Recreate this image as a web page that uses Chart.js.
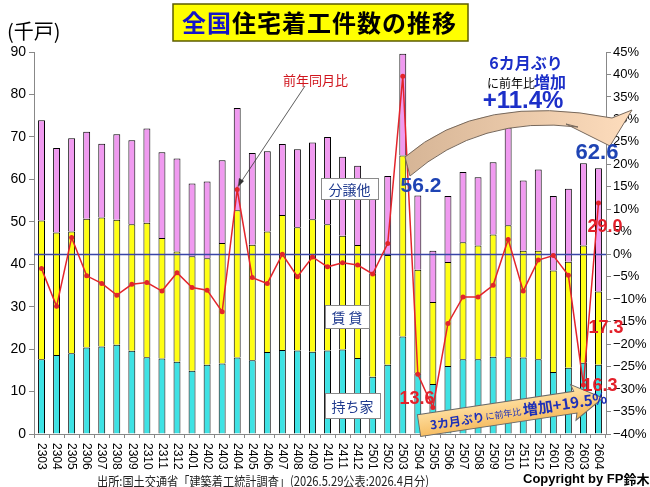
<!DOCTYPE html>
<html>
<head>
<meta charset="utf-8">
<script src="https://cdn.jsdelivr.net/npm/chart.js@4"></script>
<style>
  body { margin: 0; background: #fff; }
  canvas { display: block; }
</style>
</head>
<body>
<canvas id="c" width="650" height="487"></canvas>
<script>
const JP = "'Noto Sans CJK JP', sans-serif";
const NUM = "'Liberation Sans', Arial, sans-serif";

const months = ['2303','2304','2305','2306','2307','2308','2309','2310','2311','2312',
  '2401','2402','2403','2404','2405','2406','2407','2408','2409','2410','2411','2412',
  '2501','2502','2503','2504','2505','2506','2507','2508','2509','2510','2511','2512',
  '2601','2602','2603','2604'];

// 千戸
const ownerHouse = [17.6,18.6,19.0,20.4,20.6,21.0,19.6,18.1,17.8,17.0,
  14.9,16.3,16.6,18.0,17.4,19.3,19.8,19.7,19.4,19.7,19.9,17.9,
  13.5,16.3,23.0,14.3,11.8,16.0,17.6,17.6,18.2,18.1,18.0,17.6,
  14.6,15.6,16.8,16.3];
const rental = [32.7,28.9,28.7,30.3,30.4,29.5,29.8,31.7,28.4,26.0,
  27.0,25.1,28.4,34.7,27.2,28.4,31.8,29.0,31.2,29.7,26.8,26.6,
  24.4,25.9,42.6,24.4,19.3,24.5,27.6,26.8,28.8,31.1,25.2,25.6,
  23.9,25.0,27.6,17.3];
const forSale = [23.6,19.9,22.0,20.5,17.4,20.1,19.8,22.2,20.2,21.9,
  17.1,18.1,19.5,24.1,21.6,18.9,16.7,18.4,18.1,20.6,18.6,18.7,
  21.1,18.6,24.0,17.5,12.1,15.6,16.5,16.1,17.0,23.0,16.5,19.1,
  17.6,17.2,19.4,29.0];
// 前年同月比 %
const yoyRate = [-3.2,-11.6,3.7,-4.8,-6.5,-9.1,-6.7,-6.3,-8.2,-4.1,
  -7.4,-8.0,-12.8,14.4,-5.2,-6.5,0.0,-5.0,-0.6,-2.8,-1.9,-2.4,
  -4.4,2.4,39.6,-26.7,-34.1,-15.4,-9.5,-9.5,-6.9,3.3,-8.2,-1.3,
  -0.3,-4.7,-29.1,11.4];

function box(ctx, x, y, w, h, text, size) {
  ctx.fillStyle = '#fff';
  ctx.strokeStyle = '#8a8a8a';
  ctx.lineWidth = 1;
  ctx.fillRect(x, y, w, h);
  ctx.strokeRect(x + 0.5, y + 0.5, w, h);
  ctx.fillStyle = '#1f3a8f';
  ctx.font = `${size}px ${JP}`;
  ctx.textAlign = 'center';
  ctx.textBaseline = 'middle';
  ctx.fillText(text, x + w / 2, y + h / 2 + 1);
}

const zeroLine = {
  id: 'zeroLine',
  beforeDatasetDraw(chart, args) {
    if (args.index !== 3) return;
    const { ctx, chartArea } = chart;
    const y = Math.round(chart.scales.y1.getPixelForValue(0)) + 0.5;
    ctx.save();
    ctx.strokeStyle = '#3a46a8';
    ctx.lineWidth = 1.5;
    ctx.beginPath();
    ctx.moveTo(chartArea.left, y);
    ctx.lineTo(chartArea.right, y);
    ctx.stroke();
    ctx.restore();
  },
};

const decorations = {
  id: 'decorations',
  afterDatasetsDraw(chart) {
    const ctx = chart.ctx;
    ctx.save();

    // big curved arrow
    let g = ctx.createLinearGradient(405, 0, 630, 0);
    g.addColorStop(0, '#d6b596');
    g.addColorStop(1, '#fddcbc');
    ctx.fillStyle = g;
    ctx.strokeStyle = '#76685c';
    ctx.lineWidth = 1;
    ctx.beginPath();
    ctx.moveTo(405, 157);
    ctx.quadraticCurveTo(480, 92, 612, 118);
    ctx.lineTo(632, 110);
    ctx.lineTo(610, 146);
    ctx.lineTo(566, 124);
    ctx.lineTo(578, 127);
    ctx.quadraticCurveTo(480, 115, 410, 176);
    ctx.closePath();
    ctx.fill();
    ctx.stroke();

    // bottom straight arrow
    ctx.save();
    ctx.translate(423, 425);
    ctx.rotate(Math.atan2(398 - 425, 603 - 423));
    const len = Math.hypot(603 - 423, 398 - 425);
    g = ctx.createLinearGradient(0, -15, 0, 15);
    g.addColorStop(0, '#ffe2a6');
    g.addColorStop(1, '#f5b85a');
    ctx.fillStyle = g;
    ctx.strokeStyle = '#6a6a6a';
    ctx.beginPath();
    ctx.moveTo(-4, -11);
    ctx.lineTo(len - 28, -11);
    ctx.lineTo(len - 30, -18);
    ctx.lineTo(len, 0);
    ctx.lineTo(len - 30, 18);
    ctx.lineTo(len - 28, 11);
    ctx.lineTo(-4, 11);
    ctx.closePath();
    ctx.fill();
    ctx.stroke();
    ctx.textBaseline = 'middle';
    ctx.textAlign = 'left';
    let x = 7;
    ctx.fillStyle = '#1c2fb8';
    ctx.font = `bold 12px ${JP}`;
    ctx.fillText('3カ月ぶり', x, 1);
    x += ctx.measureText('3カ月ぶり').width + 1;
    ctx.font = `9px ${JP}`;
    ctx.fillText('に前年比', x, 1);
    x += ctx.measureText('に前年比').width + 2;
    ctx.font = `bold 15px ${JP}`;
    ctx.fillText('増加+19.5%', x, 0);
    ctx.restore();

    ctx.restore();
  },
  afterDraw(chart) {
    const ctx = chart.ctx;
    const xs = chart.scales.x;
    ctx.save();

    // x labels, rotated reading downward
    ctx.fillStyle = '#000';
    ctx.font = `12px ${NUM}`;
    ctx.textAlign = 'left';
    ctx.textBaseline = 'middle';
    months.forEach((m, i) => {
      ctx.save();
      ctx.translate(xs.getPixelForValue(i), 443);
      ctx.rotate(Math.PI / 2);
      ctx.fillText(m, 0, 0);
      ctx.restore();
    });

    // title
    ctx.fillStyle = '#ffff00';
    ctx.fillRect(173, 4, 295, 37);
    ctx.strokeStyle = '#5c5c00';
    ctx.lineWidth = 1.5;
    ctx.strokeRect(173, 4, 295, 37);
    ctx.font = `bold 24px ${JP}`;
    ctx.textAlign = 'left';
    ctx.textBaseline = 'middle';
    const title = '全国住宅着工件数の推移';
    [...title].forEach((ch, i) => {
      ctx.fillStyle = i < 2 ? '#1414c8' : '#000';
      ctx.fillText(ch, 182 + i * 25, 23);
    });

    ctx.fillStyle = '#000';
    ctx.font = `20px ${JP}`;
    ctx.fillText('(千戸)', 7, 31);

    // 前年同月比 callout
    ctx.fillStyle = '#d0141c';
    ctx.font = `13px ${JP}`;
    ctx.fillText('前年同月比', 283, 80);
    ctx.strokeStyle = '#333';
    ctx.lineWidth = 0.8;
    ctx.beginPath();
    ctx.moveTo(305, 86);
    ctx.lineTo(239, 185);
    ctx.stroke();
    ctx.fillStyle = '#333';
    ctx.beginPath();
    ctx.moveTo(238, 187);
    ctx.lineTo(239, 178);
    ctx.lineTo(244, 181);
    ctx.closePath();
    ctx.fill();

    box(ctx, 321, 178, 57, 21, '分譲他', 14);
    box(ctx, 325, 305, 44, 23, '賃 貸', 14);
    box(ctx, 325, 393, 55, 25, '持ち家', 14);

    // blue callouts
    ctx.fillStyle = '#1f44b4';
    ctx.textAlign = 'center';
    ctx.font = `bold 21px ${NUM}`;
    ctx.fillText('56.2', 421, 186);
    ctx.font = `bold 22px ${NUM}`;
    ctx.fillText('62.6', 597, 153);

    ctx.fillStyle = '#1c2fc8';
    ctx.font = `bold 16px ${JP}`;
    ctx.fillText('6カ月ぶり', 526, 63);
    ctx.textAlign = 'left';
    ctx.fillStyle = '#000';
    ctx.font = `12px ${JP}`;
    ctx.fillText('に前年比', 487, 83);
    ctx.fillStyle = '#1c2fc8';
    ctx.font = `bold 16px ${JP}`;
    ctx.fillText('増加', 534, 82);
    ctx.textAlign = 'center';
    ctx.font = `bold 24px ${NUM}`;
    ctx.fillText('+11.4%', 523, 101);

    // red values
    ctx.fillStyle = '#e3202a';
    ctx.font = `bold 18px ${NUM}`;
    ctx.fillText('29.0', 605, 227);
    ctx.fillText('17.3', 606, 328);
    ctx.fillText('16.3', 600, 386);
    ctx.fillText('13.6', 417, 399);

    // footer
    ctx.textAlign = 'left';
    ctx.fillStyle = '#222';
    ctx.font = `13px ${JP}`;
    ctx.fillText('出所:国土交通省「建築着工統計調査」(2026.5.29公表:2026.4月分)', 97, 481, 332);
    ctx.fillStyle = '#000';
    ctx.font = `bold 13px ${NUM}`;
    ctx.fillText('Copyright by FP', 523, 479);
    const w = ctx.measureText('Copyright by FP').width;
    ctx.font = `bold 13px ${JP}`;
    ctx.fillText('鈴木', 523 + w, 479);

    ctx.restore();
  },
};

const barStyle = { borderColor: '#000', borderWidth: 1, barPercentage: 0.46, categoryPercentage: 1, order: 1 };

new Chart(document.getElementById('c'), {
  type: 'bar',
  data: {
    labels: months,
    datasets: [
      { label: '持ち家', data: ownerHouse, backgroundColor: '#3ee2e4', ...barStyle },
      { label: '賃貸', data: rental, backgroundColor: '#ffff14', ...barStyle },
      { label: '分譲他', data: forSale, backgroundColor: '#f09af0', ...barStyle },
      {
        type: 'line',
        label: '前年同月比',
        data: yoyRate,
        yAxisID: 'y1',
        borderColor: '#e3242b',
        backgroundColor: '#e3242b',
        borderWidth: 1.5,
        pointRadius: 2.5,
        pointBorderWidth: 0,
        tension: 0,
        order: 0,
      },
    ],
  },
  options: {
    responsive: false,
    animation: false,
    layout: { padding: { top: 52, left: 0, right: 0, bottom: 0 } },
    plugins: { legend: { display: false }, tooltip: { enabled: false } },
    scales: {
      x: {
        stacked: true,
        offset: true,
        ticks: { display: false },
        grid: { drawOnChartArea: false, offset: true, tickLength: 4, color: '#888' },
        border: { color: '#888' },
        afterFit: s => { s.height = 53; },
      },
      y: {
        stacked: true,
        min: 0, max: 90,
        ticks: { stepSize: 10, color: '#000', padding: 3, font: { size: 14, family: NUM } },
        grid: { drawOnChartArea: false, tickLength: 5, color: '#888' },
        border: { color: '#888' },
        afterFit: s => { s.width = 34; },
      },
      y1: {
        position: 'right',
        min: -40, max: 45,
        z: 1,
        ticks: {
          stepSize: 5, color: '#000', padding: 2,
          font: { size: 13, family: NUM },
          callback: v => (v < 0 ? '−' + (-v) : v) + '%',
        },
        grid: { drawOnChartArea: false, tickLength: 5, color: '#888' },
        border: { color: '#888' },
        afterFit: s => { s.width = 44; },
      },
    },
  },
  plugins: [zeroLine, decorations],
});
</script>
</body>
</html>
